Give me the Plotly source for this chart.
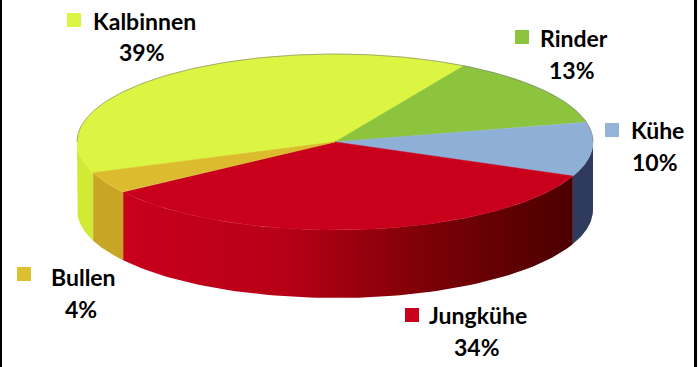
import numpy as np
import plotly.graph_objects as go

# ---- data ----
categories = ["Kalbinnen", "Rinder", "Kühe", "Jungkühe", "Bullen"]
values = [39, 13, 10, 34, 4]

# ---- style ----
top_colors = ["#dbf542", "#8cc43e", "#8fb0d6", "#c8001c", "#dcbc2e"]
side_colors = ["#d0ea35", "#6f9e2c", "#2f3b5c", None, "#c9a526"]
marker_colors = ["#dcf542", "#8cc43e", "#95b3d7", "#c8001c", "#dcc030"]
jung_gradient = [[0, "#c8001c"], [0.35, "#b80016"], [0.7, "#780006"], [1, "#4a0000"]]

CX, CY, RX, RY, DEPTH = 335, 142, 258, 88, 68
START = -110.4  # degrees, clockwise from top

name_pos = [(91, 21), (538, 38), (629, 130), (427, 315), (49, 277)]
pct_pos = [(142, 52), (572, 70), (655, 162), (477, 347), (81, 309)]
mark_pos = [(74, 20), (522, 37), (612, 130), (412, 315), (24, 274)]

FONT = "Lato"
FONT_SIZE = 23


def ell(theta_deg, dy=0.0):
    t = np.radians(theta_deg)
    return CX + RX * np.sin(t), CY - RY * np.cos(t) + dy


fig = go.Figure()

total = sum(values)
angles = []
a = START
for v in values:
    span = v / total * 360.0
    angles.append((a, a + span))
    a += span

# side faces (front half: 90..270 deg)
for i, (a1, a2) in enumerate(angles):
    for k in range(-1, 3):
        lo = max(a1, 90 + 360 * k)
        hi = min(a2, 270 + 360 * k)
        if hi <= lo:
            continue
        th = np.linspace(lo, hi, 80)
        xt, yt = ell(th)
        xb, yb = ell(th[::-1], DEPTH)
        xs = np.concatenate([xt, xb, xt[:1]])
        ys = np.concatenate([yt, yb, yt[:1]])
        kw = dict(fill="toself", mode="lines", line=dict(width=0),
                  hoverinfo="skip", showlegend=False)
        if side_colors[i] is None:
            kw["fillgradient"] = dict(type="horizontal", colorscale=jung_gradient)
        else:
            kw["fillcolor"] = side_colors[i]
        fig.add_trace(go.Scatter(x=xs, y=ys, **kw))

# top faces
for i, (a1, a2) in enumerate(angles):
    th = np.linspace(a1, a2, 120)
    xe, ye = ell(th)
    xs = np.concatenate([[CX], xe, [CX]])
    ys = np.concatenate([[CY], ye, [CY]])
    fig.add_trace(go.Scatter(x=xs, y=ys, fill="toself", mode="lines",
                             fillcolor=top_colors[i], line=dict(width=0.6, color=top_colors[i]),
                             hoverinfo="text", text=categories[i], showlegend=False))

# faint outline on back edge
th = np.linspace(-90, 90, 200)
xo, yo = ell(th)
fig.add_trace(go.Scatter(x=xo, y=yo, mode="lines", line=dict(width=1, color="rgba(120,120,120,0.6)"),
                         hoverinfo="skip", showlegend=False))

# legend-like markers
fig.add_trace(go.Scatter(x=[p[0] for p in mark_pos], y=[p[1] for p in mark_pos], mode="markers",
                         marker=dict(symbol="square", size=14, color=marker_colors, line=dict(width=0)),
                         hoverinfo="skip", showlegend=False))

annotations = []
for i, c in enumerate(categories):
    pct = round(values[i] / total * 100)
    annotations.append(dict(x=name_pos[i][0], y=name_pos[i][1], text=f"<b>{c}</b>", showarrow=False,
                            xanchor="left", yanchor="middle", xref="x", yref="y",
                            font=dict(family=FONT, size=FONT_SIZE, color="#000000")))
    annotations.append(dict(x=pct_pos[i][0], y=pct_pos[i][1], text=f"<b>{pct}%</b>", showarrow=False,
                            xanchor="center", yanchor="middle", xref="x", yref="y",
                            font=dict(family=FONT, size=FONT_SIZE, color="#000000")))

fig.update_layout(
    width=699, height=367,
    margin=dict(l=0, r=0, t=0, b=0),
    paper_bgcolor="white", plot_bgcolor="white",
    xaxis=dict(range=[0, 699], visible=False, fixedrange=True),
    yaxis=dict(range=[367, 0], visible=False, fixedrange=True),
    annotations=annotations,
    shapes=[
        dict(type="rect", xref="x", yref="y", x0=0, x1=2, y0=0, y1=367, fillcolor="black", line=dict(width=0)),
        dict(type="rect", xref="x", yref="y", x0=694, x1=697, y0=0, y1=367, fillcolor="black", line=dict(width=0)),
    ],
)

fig.write_html("out.html")
